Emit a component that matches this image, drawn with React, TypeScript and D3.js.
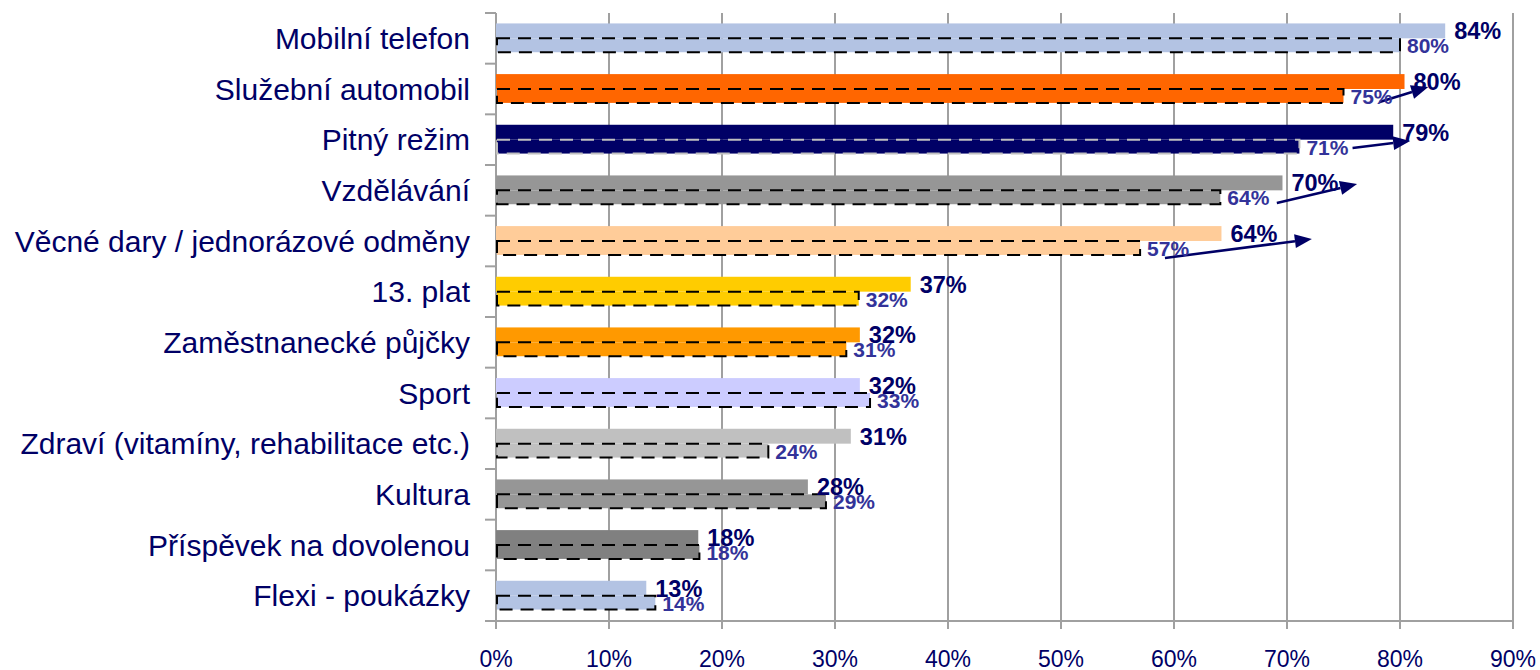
import React from "react";
import * as d3 from "d3";

const categories = [
  "Mobilní telefon",
  "Služební automobil",
  "Pitný režim",
  "Vzdělávání",
  "Věcné dary / jednorázové odměny",
  "13. plat",
  "Zaměstnanecké půjčky",
  "Sport",
  "Zdraví (vitamíny, rehabilitace etc.)",
  "Kultura",
  "Příspěvek na dovolenou",
  "Flexi - poukázky",
];
const current = [84.0, 80.4, 79.4, 69.6, 64.2, 36.7, 32.2, 32.2, 31.4, 27.6, 17.9, 13.3];
const previous = [80.0, 75.0, 71.1, 64.1, 57.0, 32.1, 31.0, 33.1, 24.1, 29.2, 18.0, 14.1];
const barColors = [
  "#B3C3E3", "#FF6600", "#000066", "#969696", "#FFCC99", "#FFCC00",
  "#FF9900", "#CCCCFF", "#C0C0C0", "#969696", "#808080", "#B3C3E3",
];
const xTicks = [0, 10, 20, 30, 40, 50, 60, 70, 80, 90];
// trend arrows: category index, start/end in value units, vertical position as band fraction
const arrows = [
  { cat: 1, x0: 78.2, f0: 0.756, x1: 82.5, f1: 0.46 },
  { cat: 2, x0: 75.8, f0: 0.665, x1: 80.9, f1: 0.527 },
  { cat: 3, x0: 69.1, f0: 0.75, x1: 76.2, f1: 0.375 },
  { cat: 4, x0: 59.2, f0: 0.835, x1: 72.2, f1: 0.46 },
];

const W = 1540;
const H = 670;
const left = 496;
const right = 1513;
const top = 13;
const bottom = 621;
const navy = "#000066";
const prevLabel = "#333399";
const gridColor = "#A0A0A0";
const font = "'Liberation Sans', Arial, sans-serif";

export default function App() {
  const x = d3.scaleLinear().domain([0, 90]).range([left, right]);
  const band = d3.scaleBand<number>().domain(categories.map((_, i) => i)).range([top, bottom]);
  const bw = band.bandwidth();
  const group = bw / 1.7;
  const barH = group / 2;
  const off = (bw - group) / 2;

  return (
    <svg width={W} height={H} style={{ position: "absolute", left: 0, top: 0, background: "#fff" }}>
      {/* gridlines */}
      {xTicks.map((t) => (
        <line key={"g" + t} x1={x(t)} x2={x(t)} y1={top} y2={bottom + 8} stroke={gridColor} strokeWidth={2} />
      ))}
      {/* y axis ticks */}
      {d3.range(categories.length + 1).map((i) => (
        <line key={"yt" + i} x1={left - 11} x2={left} y1={top + i * bw} y2={top + i * bw} stroke={gridColor} strokeWidth={2} />
      ))}
      <line x1={left - 11} x2={right} y1={bottom} y2={bottom} stroke={gridColor} strokeWidth={2} />
      {/* bars */}
      {categories.map((c, i) => {
        const y0 = band(i)! + off;
        const col = barColors[i];
        const dark = d3.hsl(col).l < 0.3;
        return (
          <g key={c}>
            <rect x={x(0)} y={y0} width={x(current[i]) - x(0)} height={barH} fill={col} />
            <rect
              x={x(0) + 1}
              y={y0 + barH}
              width={x(previous[i]) - x(0) - 1}
              height={barH - 1}
              fill={col}
              stroke={dark ? "#C0C0C0" : "#000"}
              strokeWidth={2}
              strokeDasharray="13,8"
            />
          </g>
        );
      })}
      {/* arrows */}
      {arrows.map((a, k) => {
        const bt = band(a.cat)!;
        const sx = x(a.x0), sy = bt + a.f0 * bw;
        const ex = x(a.x1), ey = bt + a.f1 * bw;
        const ang = Math.atan2(ey - sy, ex - sx);
        const L = 17, hw = 7;
        const bx = ex - L * Math.cos(ang), by = ey - L * Math.sin(ang);
        const px = -Math.sin(ang) * hw, py = Math.cos(ang) * hw;
        return (
          <g key={"a" + k}>
            <line x1={sx} y1={sy} x2={bx} y2={by} stroke={navy} strokeWidth={2.5} />
            <polygon points={`${ex},${ey} ${bx + px},${by + py} ${bx - px},${by - py}`} fill={navy} />
          </g>
        );
      })}
      {/* value labels */}
      {categories.map((c, i) => {
        const y0 = band(i)! + off;
        return (
          <g key={"l" + c} fontFamily={font} fontWeight="bold">
            <text x={x(previous[i]) + 7} y={y0 + barH * 1.5} dy="0.36em" fontSize={21} fill={prevLabel}>
              {Math.round(previous[i])}%
            </text>
            <text x={x(current[i]) + 9} y={y0 + barH * 0.5} dy="0.36em" fontSize={23.5} fill={navy}>
              {Math.round(current[i])}%
            </text>
          </g>
        );
      })}
      {/* category labels */}
      {categories.map((c, i) => (
        <text
          key={"c" + c}
          x={470}
          y={band(i)! + bw / 2}
          dy="0.36em"
          textAnchor="end"
          fontFamily={font}
          fontSize={30}
          fill={navy}
        >
          {c}
        </text>
      ))}
      {/* x tick labels */}
      {xTicks.map((t) => (
        <text key={"xt" + t} x={x(t)} y={667} textAnchor="middle" fontFamily={font} fontSize={23} fill={navy}>
          {t}%
        </text>
      ))}
    </svg>
  );
}
